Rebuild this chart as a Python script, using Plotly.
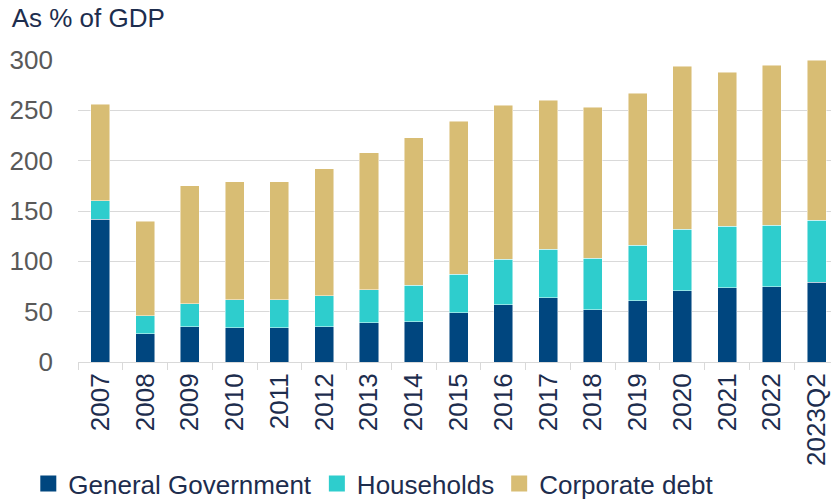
# Debt by sector, as % of GDP
import plotly.graph_objects as go

# Data
years = ["2007", "2008", "2009", "2010", "2011", "2012", "2013", "2014", "2015",
         "2016", "2017", "2018", "2019", "2020", "2021", "2022", "2023Q2"]
general_government = [142, 28, 35, 34, 34, 35, 39, 40, 49, 57, 64, 52, 61, 71, 74, 75, 79]
households = [18, 18, 23, 28, 28, 31, 33, 36, 38, 45, 48, 51, 55, 61, 61, 61, 62]
corporate_debt = [96, 94, 117, 117, 117, 126, 136, 147, 152, 153, 148, 150, 151, 162, 153, 159, 159]

navy = "#00467f"
teal = "#2ecdcd"
gold = "#d8bd74"
text_navy = "#1d2d4e"
grid = "#d9d9d9"
font = "Liberation Sans, Arial, sans-serif"

series = [("General Government", general_government, navy),
          ("Households", households, teal),
          ("Corporate debt", corporate_debt, gold)]

fig = go.Figure()
for name, vals, col in series:
    fig.add_trace(go.Bar(x=years, y=vals, name=name, showlegend=False,
                         marker=dict(color=col, line=dict(color="rgba(255,255,255,0.6)", width=0.8))))
# legend entries with larger square keys
for name, vals, col in series:
    fig.add_trace(go.Scatter(x=[None], y=[None], mode="markers", name=name,
                             marker=dict(symbol="square", size=16, color=col)))

fig.update_layout(
    barmode="stack",
    bargap=0.575,
    width=831, height=501,
    margin=dict(l=78, r=0, t=60, b=139, autoexpand=False),
    plot_bgcolor="white", paper_bgcolor="white",
    font=dict(family=font, size=26, color=text_navy),
    title=dict(text="As % of GDP", x=0.014, xanchor="left", y=0.982, yanchor="top",
               xref="container", yref="container",
               font=dict(family=font, size=26, color=text_navy)),
    legend=dict(orientation="h", x=-0.066, xanchor="left", y=-0.325, yanchor="top",
                font=dict(family=font, size=26, color=text_navy),
                traceorder="normal", itemclick=False, itemdoubleclick=False),
)

fig.update_xaxes(
    type="category",
    range=[-0.5, 16.32],
    automargin=False,
    tickangle=-90,
    tickson="boundaries",
    ticks="outside", ticklen=7, tickcolor=grid,
    showline=True, linecolor=grid, linewidth=1,
    showgrid=False,
    tickfont=dict(family=font, size=26, color=text_navy),
)
fig.update_yaxes(
    range=[0, 300],
    dtick=50,
    automargin=False,
    showgrid=True, gridcolor=grid, gridwidth=1,
    zeroline=False,
    ticks="", ticklabelstandoff=24,
    tickfont=dict(family=font, size=26, color="#595959"),
)

# drop the page's default body margin so the figure sits at the top-left corner
fig.write_html("out.html", config={"displayModeBar": False},
               post_script="document.body.style.margin='0';")
